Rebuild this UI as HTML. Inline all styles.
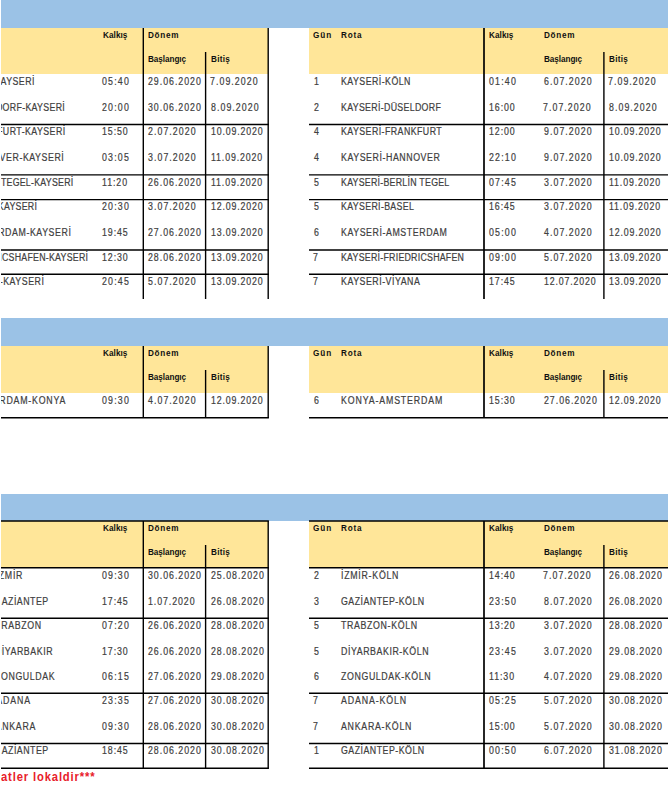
<!DOCTYPE html>
<html><head><meta charset="utf-8"><style>
html,body{margin:0;padding:0;background:#fff;}
#w{position:relative;width:670px;height:800px;overflow:hidden;background:#fff;}
#c{position:absolute;left:1px;top:0;width:669px;height:800px;overflow:hidden;}
#in{position:absolute;left:-1px;top:0;width:670px;height:800px;}
.t{position:absolute;white-space:nowrap;line-height:10px;font-family:"Liberation Sans",sans-serif;}
svg{position:absolute;left:0;top:0;}
</style></head><body><div id="w"><div id="c"><div id="in">
<div style="position:absolute;left:1px;top:0px;width:667px;height:28px;background:#9bc2e6"></div><div style="position:absolute;left:1px;top:28px;width:267px;height:46px;background:#ffe699"></div><div style="position:absolute;left:309px;top:28px;width:359px;height:46px;background:#ffe699"></div><div style="position:absolute;left:1px;top:318px;width:667px;height:28px;background:#9bc2e6"></div><div style="position:absolute;left:1px;top:346px;width:267px;height:47px;background:#ffe699"></div><div style="position:absolute;left:309px;top:346px;width:359px;height:47px;background:#ffe699"></div><div style="position:absolute;left:1px;top:494px;width:667px;height:27px;background:#9bc2e6"></div><div style="position:absolute;left:1px;top:521px;width:267px;height:47px;background:#ffe699"></div><div style="position:absolute;left:309px;top:521px;width:359px;height:47px;background:#ffe699"></div>
<div class="t" style="left:102.5px;top:30px;font-size:8.6px;font-weight:bold;color:#111;transform:scaleX(0.95);transform-origin:0 0;letter-spacing:0.063px;">Kalkış</div>
<div class="t" style="left:148.4px;top:30px;font-size:8.6px;font-weight:bold;color:#111;transform:scaleX(0.95);transform-origin:0 0;letter-spacing:0.763px;">Dönem</div>
<div class="t" style="left:148.4px;top:54px;font-size:8.6px;font-weight:bold;color:#111;transform:scaleX(0.95);transform-origin:0 0;letter-spacing:-0.066px;">Başlangıç</div>
<div class="t" style="left:210.5px;top:54px;font-size:8.6px;font-weight:bold;color:#111;transform:scaleX(0.95);transform-origin:0 0;letter-spacing:0.263px;">Bitiş</div>
<div class="t" style="left:313.1px;top:30px;font-size:8.6px;font-weight:bold;color:#111;transform:scaleX(0.95);transform-origin:0 0;letter-spacing:1.053px;">Gün</div>
<div class="t" style="left:340.8px;top:30px;font-size:8.6px;font-weight:bold;color:#111;transform:scaleX(0.95);transform-origin:0 0;letter-spacing:0.807px;">Rota</div>
<div class="t" style="left:489.2px;top:30px;font-size:8.6px;font-weight:bold;color:#111;transform:scaleX(0.95);transform-origin:0 0;letter-spacing:0.063px;">Kalkış</div>
<div class="t" style="left:544px;top:30px;font-size:8.6px;font-weight:bold;color:#111;transform:scaleX(0.95);transform-origin:0 0;letter-spacing:0.763px;">Dönem</div>
<div class="t" style="left:543.8px;top:54px;font-size:8.6px;font-weight:bold;color:#111;transform:scaleX(0.95);transform-origin:0 0;letter-spacing:-0.066px;">Başlangıç</div>
<div class="t" style="left:608.7px;top:54px;font-size:8.6px;font-weight:bold;color:#111;transform:scaleX(0.95);transform-origin:0 0;letter-spacing:0.263px;">Bitiş</div>
<div class="t" style="left:-35.4px;top:77px;font-size:10px;font-weight:normal;color:#404040;-webkit-text-stroke:0.2px #404040;transform:scaleX(0.88);transform-origin:0 0;letter-spacing:0.517px;">KÖLN-KAYSERİ</div>
<div class="t" style="left:102px;top:77px;font-size:10px;font-weight:normal;color:#404040;-webkit-text-stroke:0.2px #404040;transform:scaleX(0.88);transform-origin:0 0;letter-spacing:1.349px;">05:40</div>
<div class="t" style="left:148.2px;top:77px;font-size:10px;font-weight:normal;color:#404040;-webkit-text-stroke:0.2px #404040;transform:scaleX(0.88);transform-origin:0 0;letter-spacing:1.105px;">29.06.2020</div>
<div class="t" style="left:209.8px;top:77px;font-size:10px;font-weight:normal;color:#404040;-webkit-text-stroke:0.2px #404040;transform:scaleX(0.88);transform-origin:0 0;letter-spacing:1.196px;">7.09.2020</div>
<div class="t" style="left:-35.4px;top:103px;font-size:10px;font-weight:normal;color:#404040;-webkit-text-stroke:0.2px #404040;transform:scaleX(0.88);transform-origin:0 0;letter-spacing:0.362px;">DÜSELDORF-KAYSERİ</div>
<div class="t" style="left:102px;top:103px;font-size:10px;font-weight:normal;color:#404040;-webkit-text-stroke:0.2px #404040;transform:scaleX(0.88);transform-origin:0 0;letter-spacing:1.349px;">20:00</div>
<div class="t" style="left:148.2px;top:103px;font-size:10px;font-weight:normal;color:#404040;-webkit-text-stroke:0.2px #404040;transform:scaleX(0.88);transform-origin:0 0;letter-spacing:1.105px;">30.06.2020</div>
<div class="t" style="left:210.8px;top:103px;font-size:10px;font-weight:normal;color:#404040;-webkit-text-stroke:0.2px #404040;transform:scaleX(0.88);transform-origin:0 0;letter-spacing:1.204px;">8.09.2020</div>
<div class="t" style="left:-35.4px;top:127px;font-size:10px;font-weight:normal;color:#404040;-webkit-text-stroke:0.2px #404040;transform:scaleX(0.88);transform-origin:0 0;letter-spacing:0.504px;">FRANKFURT-KAYSERİ</div>
<div class="t" style="left:102px;top:127px;font-size:10px;font-weight:normal;color:#404040;-webkit-text-stroke:0.2px #404040;transform:scaleX(0.88);transform-origin:0 0;letter-spacing:1.045px;">15:50</div>
<div class="t" style="left:148.2px;top:127px;font-size:10px;font-weight:normal;color:#404040;-webkit-text-stroke:0.2px #404040;transform:scaleX(0.88);transform-origin:0 0;letter-spacing:1.204px;">2.07.2020</div>
<div class="t" style="left:210.8px;top:127px;font-size:10px;font-weight:normal;color:#404040;-webkit-text-stroke:0.2px #404040;transform:scaleX(0.88);transform-origin:0 0;letter-spacing:0.972px;">10.09.2020</div>
<div class="t" style="left:-35.4px;top:153px;font-size:10px;font-weight:normal;color:#404040;-webkit-text-stroke:0.2px #404040;transform:scaleX(0.88);transform-origin:0 0;letter-spacing:0.644px;">HANNOVER-KAYSERİ</div>
<div class="t" style="left:102px;top:153px;font-size:10px;font-weight:normal;color:#404040;-webkit-text-stroke:0.2px #404040;transform:scaleX(0.88);transform-origin:0 0;letter-spacing:1.349px;">03:05</div>
<div class="t" style="left:148.2px;top:153px;font-size:10px;font-weight:normal;color:#404040;-webkit-text-stroke:0.2px #404040;transform:scaleX(0.88);transform-origin:0 0;letter-spacing:1.204px;">3.07.2020</div>
<div class="t" style="left:210.8px;top:153px;font-size:10px;font-weight:normal;color:#404040;-webkit-text-stroke:0.2px #404040;transform:scaleX(0.88);transform-origin:0 0;letter-spacing:0.972px;">11.09.2020</div>
<div class="t" style="left:-35.4px;top:178px;font-size:10px;font-weight:normal;color:#404040;-webkit-text-stroke:0.2px #404040;transform:scaleX(0.88);transform-origin:0 0;letter-spacing:0.293px;">BERLİN TEGEL-KAYSERİ</div>
<div class="t" style="left:102px;top:178px;font-size:10px;font-weight:normal;color:#404040;-webkit-text-stroke:0.2px #404040;transform:scaleX(0.88);transform-origin:0 0;letter-spacing:1.045px;">11:20</div>
<div class="t" style="left:148.2px;top:178px;font-size:10px;font-weight:normal;color:#404040;-webkit-text-stroke:0.2px #404040;transform:scaleX(0.88);transform-origin:0 0;letter-spacing:1.105px;">26.06.2020</div>
<div class="t" style="left:210.8px;top:178px;font-size:10px;font-weight:normal;color:#404040;-webkit-text-stroke:0.2px #404040;transform:scaleX(0.88);transform-origin:0 0;letter-spacing:0.972px;">11.09.2020</div>
<div class="t" style="left:-35.4px;top:202px;font-size:10px;font-weight:normal;color:#404040;-webkit-text-stroke:0.2px #404040;transform:scaleX(0.88);transform-origin:0 0;letter-spacing:0.294px;">BASEL-KAYSERİ</div>
<div class="t" style="left:102px;top:202px;font-size:10px;font-weight:normal;color:#404040;-webkit-text-stroke:0.2px #404040;transform:scaleX(0.88);transform-origin:0 0;letter-spacing:1.349px;">20:30</div>
<div class="t" style="left:148.2px;top:202px;font-size:10px;font-weight:normal;color:#404040;-webkit-text-stroke:0.2px #404040;transform:scaleX(0.88);transform-origin:0 0;letter-spacing:1.204px;">3.07.2020</div>
<div class="t" style="left:210.8px;top:202px;font-size:10px;font-weight:normal;color:#404040;-webkit-text-stroke:0.2px #404040;transform:scaleX(0.88);transform-origin:0 0;letter-spacing:0.972px;">12.09.2020</div>
<div class="t" style="left:-35.4px;top:228px;font-size:10px;font-weight:normal;color:#404040;-webkit-text-stroke:0.2px #404040;transform:scaleX(0.88);transform-origin:0 0;letter-spacing:0.653px;">AMSTERDAM-KAYSERİ</div>
<div class="t" style="left:102px;top:228px;font-size:10px;font-weight:normal;color:#404040;-webkit-text-stroke:0.2px #404040;transform:scaleX(0.88);transform-origin:0 0;letter-spacing:1.045px;">19:45</div>
<div class="t" style="left:148.2px;top:228px;font-size:10px;font-weight:normal;color:#404040;-webkit-text-stroke:0.2px #404040;transform:scaleX(0.88);transform-origin:0 0;letter-spacing:1.105px;">27.06.2020</div>
<div class="t" style="left:210.8px;top:228px;font-size:10px;font-weight:normal;color:#404040;-webkit-text-stroke:0.2px #404040;transform:scaleX(0.88);transform-origin:0 0;letter-spacing:0.972px;">13.09.2020</div>
<div class="t" style="left:-35.4px;top:253px;font-size:10px;font-weight:normal;color:#404040;-webkit-text-stroke:0.2px #404040;transform:scaleX(0.88);transform-origin:0 0;letter-spacing:0.287px;">FRIEDRICSHAFEN-KAYSERİ</div>
<div class="t" style="left:102px;top:253px;font-size:10px;font-weight:normal;color:#404040;-webkit-text-stroke:0.2px #404040;transform:scaleX(0.88);transform-origin:0 0;letter-spacing:1.045px;">12:30</div>
<div class="t" style="left:148.2px;top:253px;font-size:10px;font-weight:normal;color:#404040;-webkit-text-stroke:0.2px #404040;transform:scaleX(0.88);transform-origin:0 0;letter-spacing:1.105px;">28.06.2020</div>
<div class="t" style="left:210.8px;top:253px;font-size:10px;font-weight:normal;color:#404040;-webkit-text-stroke:0.2px #404040;transform:scaleX(0.88);transform-origin:0 0;letter-spacing:0.972px;">13.09.2020</div>
<div class="t" style="left:-35.4px;top:277px;font-size:10px;font-weight:normal;color:#404040;-webkit-text-stroke:0.2px #404040;transform:scaleX(0.88);transform-origin:0 0;letter-spacing:0.594px;">VİYANA-KAYSERİ</div>
<div class="t" style="left:102px;top:277px;font-size:10px;font-weight:normal;color:#404040;-webkit-text-stroke:0.2px #404040;transform:scaleX(0.88);transform-origin:0 0;letter-spacing:1.349px;">20:45</div>
<div class="t" style="left:148.2px;top:277px;font-size:10px;font-weight:normal;color:#404040;-webkit-text-stroke:0.2px #404040;transform:scaleX(0.88);transform-origin:0 0;letter-spacing:1.204px;">5.07.2020</div>
<div class="t" style="left:210.8px;top:277px;font-size:10px;font-weight:normal;color:#404040;-webkit-text-stroke:0.2px #404040;transform:scaleX(0.88);transform-origin:0 0;letter-spacing:0.972px;">13.09.2020</div>
<div class="t" style="left:314.4px;top:77px;font-size:10px;font-weight:normal;color:#404040;-webkit-text-stroke:0.2px #404040;transform:scaleX(0.88);transform-origin:0 0;letter-spacing:0px;">1</div>
<div class="t" style="left:340.7px;top:77px;font-size:10px;font-weight:normal;color:#404040;-webkit-text-stroke:0.2px #404040;transform:scaleX(0.88);transform-origin:0 0;letter-spacing:0.517px;">KAYSERİ-KÖLN</div>
<div class="t" style="left:489.2px;top:77px;font-size:10px;font-weight:normal;color:#404040;-webkit-text-stroke:0.2px #404040;transform:scaleX(0.88);transform-origin:0 0;letter-spacing:1.349px;">01:40</div>
<div class="t" style="left:544px;top:77px;font-size:10px;font-weight:normal;color:#404040;-webkit-text-stroke:0.2px #404040;transform:scaleX(0.88);transform-origin:0 0;letter-spacing:1.204px;">6.07.2020</div>
<div class="t" style="left:607.8px;top:77px;font-size:10px;font-weight:normal;color:#404040;-webkit-text-stroke:0.2px #404040;transform:scaleX(0.88);transform-origin:0 0;letter-spacing:1.196px;">7.09.2020</div>
<div class="t" style="left:313.5px;top:103px;font-size:10px;font-weight:normal;color:#404040;-webkit-text-stroke:0.2px #404040;transform:scaleX(0.88);transform-origin:0 0;letter-spacing:0px;">2</div>
<div class="t" style="left:340.7px;top:103px;font-size:10px;font-weight:normal;color:#404040;-webkit-text-stroke:0.2px #404040;transform:scaleX(0.88);transform-origin:0 0;letter-spacing:0.362px;">KAYSERİ-DÜSELDORF</div>
<div class="t" style="left:489.2px;top:103px;font-size:10px;font-weight:normal;color:#404040;-webkit-text-stroke:0.2px #404040;transform:scaleX(0.88);transform-origin:0 0;letter-spacing:1.045px;">16:00</div>
<div class="t" style="left:543px;top:103px;font-size:10px;font-weight:normal;color:#404040;-webkit-text-stroke:0.2px #404040;transform:scaleX(0.88);transform-origin:0 0;letter-spacing:1.196px;">7.07.2020</div>
<div class="t" style="left:608.8px;top:103px;font-size:10px;font-weight:normal;color:#404040;-webkit-text-stroke:0.2px #404040;transform:scaleX(0.88);transform-origin:0 0;letter-spacing:1.204px;">8.09.2020</div>
<div class="t" style="left:313.5px;top:127px;font-size:10px;font-weight:normal;color:#404040;-webkit-text-stroke:0.2px #404040;transform:scaleX(0.88);transform-origin:0 0;letter-spacing:0px;">4</div>
<div class="t" style="left:340.7px;top:127px;font-size:10px;font-weight:normal;color:#404040;-webkit-text-stroke:0.2px #404040;transform:scaleX(0.88);transform-origin:0 0;letter-spacing:0.504px;">KAYSERİ-FRANKFURT</div>
<div class="t" style="left:489.2px;top:127px;font-size:10px;font-weight:normal;color:#404040;-webkit-text-stroke:0.2px #404040;transform:scaleX(0.88);transform-origin:0 0;letter-spacing:1.045px;">12:00</div>
<div class="t" style="left:544px;top:127px;font-size:10px;font-weight:normal;color:#404040;-webkit-text-stroke:0.2px #404040;transform:scaleX(0.88);transform-origin:0 0;letter-spacing:1.204px;">9.07.2020</div>
<div class="t" style="left:608.8px;top:127px;font-size:10px;font-weight:normal;color:#404040;-webkit-text-stroke:0.2px #404040;transform:scaleX(0.88);transform-origin:0 0;letter-spacing:0.972px;">10.09.2020</div>
<div class="t" style="left:313.5px;top:153px;font-size:10px;font-weight:normal;color:#404040;-webkit-text-stroke:0.2px #404040;transform:scaleX(0.88);transform-origin:0 0;letter-spacing:0px;">4</div>
<div class="t" style="left:340.7px;top:153px;font-size:10px;font-weight:normal;color:#404040;-webkit-text-stroke:0.2px #404040;transform:scaleX(0.88);transform-origin:0 0;letter-spacing:0.644px;">KAYSERİ-HANNOVER</div>
<div class="t" style="left:489.2px;top:153px;font-size:10px;font-weight:normal;color:#404040;-webkit-text-stroke:0.2px #404040;transform:scaleX(0.88);transform-origin:0 0;letter-spacing:1.349px;">22:10</div>
<div class="t" style="left:544px;top:153px;font-size:10px;font-weight:normal;color:#404040;-webkit-text-stroke:0.2px #404040;transform:scaleX(0.88);transform-origin:0 0;letter-spacing:1.204px;">9.07.2020</div>
<div class="t" style="left:608.8px;top:153px;font-size:10px;font-weight:normal;color:#404040;-webkit-text-stroke:0.2px #404040;transform:scaleX(0.88);transform-origin:0 0;letter-spacing:0.972px;">10.09.2020</div>
<div class="t" style="left:313.5px;top:178px;font-size:10px;font-weight:normal;color:#404040;-webkit-text-stroke:0.2px #404040;transform:scaleX(0.88);transform-origin:0 0;letter-spacing:0px;">5</div>
<div class="t" style="left:340.7px;top:178px;font-size:10px;font-weight:normal;color:#404040;-webkit-text-stroke:0.2px #404040;transform:scaleX(0.88);transform-origin:0 0;letter-spacing:0.293px;">KAYSERİ-BERLİN TEGEL</div>
<div class="t" style="left:489.2px;top:178px;font-size:10px;font-weight:normal;color:#404040;-webkit-text-stroke:0.2px #404040;transform:scaleX(0.88);transform-origin:0 0;letter-spacing:1.349px;">07:45</div>
<div class="t" style="left:544px;top:178px;font-size:10px;font-weight:normal;color:#404040;-webkit-text-stroke:0.2px #404040;transform:scaleX(0.88);transform-origin:0 0;letter-spacing:1.204px;">3.07.2020</div>
<div class="t" style="left:608.8px;top:178px;font-size:10px;font-weight:normal;color:#404040;-webkit-text-stroke:0.2px #404040;transform:scaleX(0.88);transform-origin:0 0;letter-spacing:0.972px;">11.09.2020</div>
<div class="t" style="left:313.5px;top:202px;font-size:10px;font-weight:normal;color:#404040;-webkit-text-stroke:0.2px #404040;transform:scaleX(0.88);transform-origin:0 0;letter-spacing:0px;">5</div>
<div class="t" style="left:340.7px;top:202px;font-size:10px;font-weight:normal;color:#404040;-webkit-text-stroke:0.2px #404040;transform:scaleX(0.88);transform-origin:0 0;letter-spacing:0.388px;">KAYSERİ-BASEL</div>
<div class="t" style="left:489.2px;top:202px;font-size:10px;font-weight:normal;color:#404040;-webkit-text-stroke:0.2px #404040;transform:scaleX(0.88);transform-origin:0 0;letter-spacing:1.045px;">16:45</div>
<div class="t" style="left:544px;top:202px;font-size:10px;font-weight:normal;color:#404040;-webkit-text-stroke:0.2px #404040;transform:scaleX(0.88);transform-origin:0 0;letter-spacing:1.204px;">3.07.2020</div>
<div class="t" style="left:608.8px;top:202px;font-size:10px;font-weight:normal;color:#404040;-webkit-text-stroke:0.2px #404040;transform:scaleX(0.88);transform-origin:0 0;letter-spacing:0.972px;">11.09.2020</div>
<div class="t" style="left:313.5px;top:228px;font-size:10px;font-weight:normal;color:#404040;-webkit-text-stroke:0.2px #404040;transform:scaleX(0.88);transform-origin:0 0;letter-spacing:0px;">6</div>
<div class="t" style="left:340.7px;top:228px;font-size:10px;font-weight:normal;color:#404040;-webkit-text-stroke:0.2px #404040;transform:scaleX(0.88);transform-origin:0 0;letter-spacing:0.653px;">KAYSERİ-AMSTERDAM</div>
<div class="t" style="left:489.2px;top:228px;font-size:10px;font-weight:normal;color:#404040;-webkit-text-stroke:0.2px #404040;transform:scaleX(0.88);transform-origin:0 0;letter-spacing:1.349px;">05:00</div>
<div class="t" style="left:544px;top:228px;font-size:10px;font-weight:normal;color:#404040;-webkit-text-stroke:0.2px #404040;transform:scaleX(0.88);transform-origin:0 0;letter-spacing:1.204px;">4.07.2020</div>
<div class="t" style="left:608.8px;top:228px;font-size:10px;font-weight:normal;color:#404040;-webkit-text-stroke:0.2px #404040;transform:scaleX(0.88);transform-origin:0 0;letter-spacing:0.972px;">12.09.2020</div>
<div class="t" style="left:312.5px;top:253px;font-size:10px;font-weight:normal;color:#404040;-webkit-text-stroke:0.2px #404040;transform:scaleX(0.88);transform-origin:0 0;letter-spacing:0px;">7</div>
<div class="t" style="left:340.7px;top:253px;font-size:10px;font-weight:normal;color:#404040;-webkit-text-stroke:0.2px #404040;transform:scaleX(0.88);transform-origin:0 0;letter-spacing:0.287px;">KAYSERİ-FRIEDRICSHAFEN</div>
<div class="t" style="left:489.2px;top:253px;font-size:10px;font-weight:normal;color:#404040;-webkit-text-stroke:0.2px #404040;transform:scaleX(0.88);transform-origin:0 0;letter-spacing:1.349px;">09:00</div>
<div class="t" style="left:544px;top:253px;font-size:10px;font-weight:normal;color:#404040;-webkit-text-stroke:0.2px #404040;transform:scaleX(0.88);transform-origin:0 0;letter-spacing:1.204px;">5.07.2020</div>
<div class="t" style="left:608.8px;top:253px;font-size:10px;font-weight:normal;color:#404040;-webkit-text-stroke:0.2px #404040;transform:scaleX(0.88);transform-origin:0 0;letter-spacing:0.972px;">13.09.2020</div>
<div class="t" style="left:312.5px;top:277px;font-size:10px;font-weight:normal;color:#404040;-webkit-text-stroke:0.2px #404040;transform:scaleX(0.88);transform-origin:0 0;letter-spacing:0px;">7</div>
<div class="t" style="left:340.7px;top:277px;font-size:10px;font-weight:normal;color:#404040;-webkit-text-stroke:0.2px #404040;transform:scaleX(0.88);transform-origin:0 0;letter-spacing:0.594px;">KAYSERİ-VİYANA</div>
<div class="t" style="left:489.2px;top:277px;font-size:10px;font-weight:normal;color:#404040;-webkit-text-stroke:0.2px #404040;transform:scaleX(0.88);transform-origin:0 0;letter-spacing:1.045px;">17:45</div>
<div class="t" style="left:544px;top:277px;font-size:10px;font-weight:normal;color:#404040;-webkit-text-stroke:0.2px #404040;transform:scaleX(0.88);transform-origin:0 0;letter-spacing:0.972px;">12.07.2020</div>
<div class="t" style="left:608.8px;top:277px;font-size:10px;font-weight:normal;color:#404040;-webkit-text-stroke:0.2px #404040;transform:scaleX(0.88);transform-origin:0 0;letter-spacing:0.972px;">13.09.2020</div>
<div class="t" style="left:102.5px;top:348px;font-size:8.6px;font-weight:bold;color:#111;transform:scaleX(0.95);transform-origin:0 0;letter-spacing:0.063px;">Kalkış</div>
<div class="t" style="left:148.4px;top:348px;font-size:8.6px;font-weight:bold;color:#111;transform:scaleX(0.95);transform-origin:0 0;letter-spacing:0.763px;">Dönem</div>
<div class="t" style="left:148.4px;top:372px;font-size:8.6px;font-weight:bold;color:#111;transform:scaleX(0.95);transform-origin:0 0;letter-spacing:-0.066px;">Başlangıç</div>
<div class="t" style="left:210.5px;top:372px;font-size:8.6px;font-weight:bold;color:#111;transform:scaleX(0.95);transform-origin:0 0;letter-spacing:0.263px;">Bitiş</div>
<div class="t" style="left:313.1px;top:348px;font-size:8.6px;font-weight:bold;color:#111;transform:scaleX(0.95);transform-origin:0 0;letter-spacing:1.053px;">Gün</div>
<div class="t" style="left:340.8px;top:348px;font-size:8.6px;font-weight:bold;color:#111;transform:scaleX(0.95);transform-origin:0 0;letter-spacing:0.807px;">Rota</div>
<div class="t" style="left:489.2px;top:348px;font-size:8.6px;font-weight:bold;color:#111;transform:scaleX(0.95);transform-origin:0 0;letter-spacing:0.063px;">Kalkış</div>
<div class="t" style="left:544px;top:348px;font-size:8.6px;font-weight:bold;color:#111;transform:scaleX(0.95);transform-origin:0 0;letter-spacing:0.763px;">Dönem</div>
<div class="t" style="left:543.8px;top:372px;font-size:8.6px;font-weight:bold;color:#111;transform:scaleX(0.95);transform-origin:0 0;letter-spacing:-0.066px;">Başlangıç</div>
<div class="t" style="left:608.7px;top:372px;font-size:8.6px;font-weight:bold;color:#111;transform:scaleX(0.95);transform-origin:0 0;letter-spacing:0.263px;">Bitiş</div>
<div class="t" style="left:-35.4px;top:396px;font-size:10px;font-weight:normal;color:#404040;-webkit-text-stroke:0.2px #404040;transform:scaleX(0.88);transform-origin:0 0;letter-spacing:0.893px;">AMSTERDAM-KONYA</div>
<div class="t" style="left:102px;top:396px;font-size:10px;font-weight:normal;color:#404040;-webkit-text-stroke:0.2px #404040;transform:scaleX(0.88);transform-origin:0 0;letter-spacing:1.349px;">09:30</div>
<div class="t" style="left:148.2px;top:396px;font-size:10px;font-weight:normal;color:#404040;-webkit-text-stroke:0.2px #404040;transform:scaleX(0.88);transform-origin:0 0;letter-spacing:1.204px;">4.07.2020</div>
<div class="t" style="left:210.8px;top:396px;font-size:10px;font-weight:normal;color:#404040;-webkit-text-stroke:0.2px #404040;transform:scaleX(0.88);transform-origin:0 0;letter-spacing:0.972px;">12.09.2020</div>
<div class="t" style="left:313.5px;top:396px;font-size:10px;font-weight:normal;color:#404040;-webkit-text-stroke:0.2px #404040;transform:scaleX(0.88);transform-origin:0 0;letter-spacing:0px;">6</div>
<div class="t" style="left:340.7px;top:396px;font-size:10px;font-weight:normal;color:#404040;-webkit-text-stroke:0.2px #404040;transform:scaleX(0.88);transform-origin:0 0;letter-spacing:0.974px;">KONYA-AMSTERDAM</div>
<div class="t" style="left:489.2px;top:396px;font-size:10px;font-weight:normal;color:#404040;-webkit-text-stroke:0.2px #404040;transform:scaleX(0.88);transform-origin:0 0;letter-spacing:1.045px;">15:30</div>
<div class="t" style="left:544px;top:396px;font-size:10px;font-weight:normal;color:#404040;-webkit-text-stroke:0.2px #404040;transform:scaleX(0.88);transform-origin:0 0;letter-spacing:1.105px;">27.06.2020</div>
<div class="t" style="left:608.8px;top:396px;font-size:10px;font-weight:normal;color:#404040;-webkit-text-stroke:0.2px #404040;transform:scaleX(0.88);transform-origin:0 0;letter-spacing:0.972px;">12.09.2020</div>
<div class="t" style="left:102.5px;top:523px;font-size:8.6px;font-weight:bold;color:#111;transform:scaleX(0.95);transform-origin:0 0;letter-spacing:0.063px;">Kalkış</div>
<div class="t" style="left:148.4px;top:523px;font-size:8.6px;font-weight:bold;color:#111;transform:scaleX(0.95);transform-origin:0 0;letter-spacing:0.763px;">Dönem</div>
<div class="t" style="left:148.4px;top:547px;font-size:8.6px;font-weight:bold;color:#111;transform:scaleX(0.95);transform-origin:0 0;letter-spacing:-0.066px;">Başlangıç</div>
<div class="t" style="left:210.5px;top:547px;font-size:8.6px;font-weight:bold;color:#111;transform:scaleX(0.95);transform-origin:0 0;letter-spacing:0.263px;">Bitiş</div>
<div class="t" style="left:313.1px;top:523px;font-size:8.6px;font-weight:bold;color:#111;transform:scaleX(0.95);transform-origin:0 0;letter-spacing:1.053px;">Gün</div>
<div class="t" style="left:340.8px;top:523px;font-size:8.6px;font-weight:bold;color:#111;transform:scaleX(0.95);transform-origin:0 0;letter-spacing:0.807px;">Rota</div>
<div class="t" style="left:489.2px;top:523px;font-size:8.6px;font-weight:bold;color:#111;transform:scaleX(0.95);transform-origin:0 0;letter-spacing:0.063px;">Kalkış</div>
<div class="t" style="left:544px;top:523px;font-size:8.6px;font-weight:bold;color:#111;transform:scaleX(0.95);transform-origin:0 0;letter-spacing:0.763px;">Dönem</div>
<div class="t" style="left:543.8px;top:547px;font-size:8.6px;font-weight:bold;color:#111;transform:scaleX(0.95);transform-origin:0 0;letter-spacing:-0.066px;">Başlangıç</div>
<div class="t" style="left:608.7px;top:547px;font-size:8.6px;font-weight:bold;color:#111;transform:scaleX(0.95);transform-origin:0 0;letter-spacing:0.263px;">Bitiş</div>
<div class="t" style="left:-35.4px;top:571px;font-size:10px;font-weight:normal;color:#404040;-webkit-text-stroke:0.2px #404040;transform:scaleX(0.88);transform-origin:0 0;letter-spacing:0.833px;">KÖLN-İZMİR</div>
<div class="t" style="left:102px;top:571px;font-size:10px;font-weight:normal;color:#404040;-webkit-text-stroke:0.2px #404040;transform:scaleX(0.88);transform-origin:0 0;letter-spacing:1.349px;">09:30</div>
<div class="t" style="left:148.2px;top:571px;font-size:10px;font-weight:normal;color:#404040;-webkit-text-stroke:0.2px #404040;transform:scaleX(0.88);transform-origin:0 0;letter-spacing:1.105px;">30.06.2020</div>
<div class="t" style="left:210.8px;top:571px;font-size:10px;font-weight:normal;color:#404040;-webkit-text-stroke:0.2px #404040;transform:scaleX(0.88);transform-origin:0 0;letter-spacing:1.105px;">25.08.2020</div>
<div class="t" style="left:-35.4px;top:597px;font-size:10px;font-weight:normal;color:#404040;-webkit-text-stroke:0.2px #404040;transform:scaleX(0.88);transform-origin:0 0;letter-spacing:0.559px;">KÖLN-GAZİANTEP</div>
<div class="t" style="left:102px;top:597px;font-size:10px;font-weight:normal;color:#404040;-webkit-text-stroke:0.2px #404040;transform:scaleX(0.88);transform-origin:0 0;letter-spacing:1.045px;">17:45</div>
<div class="t" style="left:148.2px;top:597px;font-size:10px;font-weight:normal;color:#404040;-webkit-text-stroke:0.2px #404040;transform:scaleX(0.88);transform-origin:0 0;letter-spacing:1.054px;">1.07.2020</div>
<div class="t" style="left:210.8px;top:597px;font-size:10px;font-weight:normal;color:#404040;-webkit-text-stroke:0.2px #404040;transform:scaleX(0.88);transform-origin:0 0;letter-spacing:1.105px;">26.08.2020</div>
<div class="t" style="left:-35.4px;top:621px;font-size:10px;font-weight:normal;color:#404040;-webkit-text-stroke:0.2px #404040;transform:scaleX(0.88);transform-origin:0 0;letter-spacing:0.733px;">KÖLN-TRABZON</div>
<div class="t" style="left:102px;top:621px;font-size:10px;font-weight:normal;color:#404040;-webkit-text-stroke:0.2px #404040;transform:scaleX(0.88);transform-origin:0 0;letter-spacing:1.349px;">07:20</div>
<div class="t" style="left:148.2px;top:621px;font-size:10px;font-weight:normal;color:#404040;-webkit-text-stroke:0.2px #404040;transform:scaleX(0.88);transform-origin:0 0;letter-spacing:1.105px;">26.06.2020</div>
<div class="t" style="left:210.8px;top:621px;font-size:10px;font-weight:normal;color:#404040;-webkit-text-stroke:0.2px #404040;transform:scaleX(0.88);transform-origin:0 0;letter-spacing:1.105px;">28.08.2020</div>
<div class="t" style="left:-35.4px;top:647px;font-size:10px;font-weight:normal;color:#404040;-webkit-text-stroke:0.2px #404040;transform:scaleX(0.88);transform-origin:0 0;letter-spacing:0.649px;">KÖLN-DİYARBAKIR</div>
<div class="t" style="left:102px;top:647px;font-size:10px;font-weight:normal;color:#404040;-webkit-text-stroke:0.2px #404040;transform:scaleX(0.88);transform-origin:0 0;letter-spacing:1.045px;">17:30</div>
<div class="t" style="left:148.2px;top:647px;font-size:10px;font-weight:normal;color:#404040;-webkit-text-stroke:0.2px #404040;transform:scaleX(0.88);transform-origin:0 0;letter-spacing:1.105px;">26.06.2020</div>
<div class="t" style="left:210.8px;top:647px;font-size:10px;font-weight:normal;color:#404040;-webkit-text-stroke:0.2px #404040;transform:scaleX(0.88);transform-origin:0 0;letter-spacing:1.105px;">28.08.2020</div>
<div class="t" style="left:-35.4px;top:672px;font-size:10px;font-weight:normal;color:#404040;-webkit-text-stroke:0.2px #404040;transform:scaleX(0.88);transform-origin:0 0;letter-spacing:0.699px;">KÖLN-ZONGULDAK</div>
<div class="t" style="left:102px;top:672px;font-size:10px;font-weight:normal;color:#404040;-webkit-text-stroke:0.2px #404040;transform:scaleX(0.88);transform-origin:0 0;letter-spacing:1.349px;">06:15</div>
<div class="t" style="left:148.2px;top:672px;font-size:10px;font-weight:normal;color:#404040;-webkit-text-stroke:0.2px #404040;transform:scaleX(0.88);transform-origin:0 0;letter-spacing:1.105px;">27.06.2020</div>
<div class="t" style="left:210.8px;top:672px;font-size:10px;font-weight:normal;color:#404040;-webkit-text-stroke:0.2px #404040;transform:scaleX(0.88);transform-origin:0 0;letter-spacing:1.105px;">29.08.2020</div>
<div class="t" style="left:-35.4px;top:696px;font-size:10px;font-weight:normal;color:#404040;-webkit-text-stroke:0.2px #404040;transform:scaleX(0.88);transform-origin:0 0;letter-spacing:1.01px;">KÖLN-ADANA</div>
<div class="t" style="left:102px;top:696px;font-size:10px;font-weight:normal;color:#404040;-webkit-text-stroke:0.2px #404040;transform:scaleX(0.88);transform-origin:0 0;letter-spacing:1.349px;">23:35</div>
<div class="t" style="left:148.2px;top:696px;font-size:10px;font-weight:normal;color:#404040;-webkit-text-stroke:0.2px #404040;transform:scaleX(0.88);transform-origin:0 0;letter-spacing:1.105px;">27.06.2020</div>
<div class="t" style="left:210.8px;top:696px;font-size:10px;font-weight:normal;color:#404040;-webkit-text-stroke:0.2px #404040;transform:scaleX(0.88);transform-origin:0 0;letter-spacing:1.105px;">30.08.2020</div>
<div class="t" style="left:-35.4px;top:722px;font-size:10px;font-weight:normal;color:#404040;-webkit-text-stroke:0.2px #404040;transform:scaleX(0.88);transform-origin:0 0;letter-spacing:0.83px;">KÖLN-ANKARA</div>
<div class="t" style="left:102px;top:722px;font-size:10px;font-weight:normal;color:#404040;-webkit-text-stroke:0.2px #404040;transform:scaleX(0.88);transform-origin:0 0;letter-spacing:1.349px;">09:30</div>
<div class="t" style="left:148.2px;top:722px;font-size:10px;font-weight:normal;color:#404040;-webkit-text-stroke:0.2px #404040;transform:scaleX(0.88);transform-origin:0 0;letter-spacing:1.105px;">28.06.2020</div>
<div class="t" style="left:210.8px;top:722px;font-size:10px;font-weight:normal;color:#404040;-webkit-text-stroke:0.2px #404040;transform:scaleX(0.88);transform-origin:0 0;letter-spacing:1.105px;">30.08.2020</div>
<div class="t" style="left:-35.4px;top:746px;font-size:10px;font-weight:normal;color:#404040;-webkit-text-stroke:0.2px #404040;transform:scaleX(0.88);transform-origin:0 0;letter-spacing:0.559px;">KÖLN-GAZİANTEP</div>
<div class="t" style="left:102px;top:746px;font-size:10px;font-weight:normal;color:#404040;-webkit-text-stroke:0.2px #404040;transform:scaleX(0.88);transform-origin:0 0;letter-spacing:1.045px;">18:45</div>
<div class="t" style="left:148.2px;top:746px;font-size:10px;font-weight:normal;color:#404040;-webkit-text-stroke:0.2px #404040;transform:scaleX(0.88);transform-origin:0 0;letter-spacing:1.105px;">28.06.2020</div>
<div class="t" style="left:210.8px;top:746px;font-size:10px;font-weight:normal;color:#404040;-webkit-text-stroke:0.2px #404040;transform:scaleX(0.88);transform-origin:0 0;letter-spacing:1.105px;">30.08.2020</div>
<div class="t" style="left:313.5px;top:571px;font-size:10px;font-weight:normal;color:#404040;-webkit-text-stroke:0.2px #404040;transform:scaleX(0.88);transform-origin:0 0;letter-spacing:0px;">2</div>
<div class="t" style="left:340.7px;top:571px;font-size:10px;font-weight:normal;color:#404040;-webkit-text-stroke:0.2px #404040;transform:scaleX(0.88);transform-origin:0 0;letter-spacing:0.833px;">İZMİR-KÖLN</div>
<div class="t" style="left:489.2px;top:571px;font-size:10px;font-weight:normal;color:#404040;-webkit-text-stroke:0.2px #404040;transform:scaleX(0.88);transform-origin:0 0;letter-spacing:1.045px;">14:40</div>
<div class="t" style="left:543px;top:571px;font-size:10px;font-weight:normal;color:#404040;-webkit-text-stroke:0.2px #404040;transform:scaleX(0.88);transform-origin:0 0;letter-spacing:1.196px;">7.07.2020</div>
<div class="t" style="left:608.8px;top:571px;font-size:10px;font-weight:normal;color:#404040;-webkit-text-stroke:0.2px #404040;transform:scaleX(0.88);transform-origin:0 0;letter-spacing:1.105px;">26.08.2020</div>
<div class="t" style="left:313.5px;top:597px;font-size:10px;font-weight:normal;color:#404040;-webkit-text-stroke:0.2px #404040;transform:scaleX(0.88);transform-origin:0 0;letter-spacing:0px;">3</div>
<div class="t" style="left:340.7px;top:597px;font-size:10px;font-weight:normal;color:#404040;-webkit-text-stroke:0.2px #404040;transform:scaleX(0.88);transform-origin:0 0;letter-spacing:0.559px;">GAZİANTEP-KÖLN</div>
<div class="t" style="left:489.2px;top:597px;font-size:10px;font-weight:normal;color:#404040;-webkit-text-stroke:0.2px #404040;transform:scaleX(0.88);transform-origin:0 0;letter-spacing:1.349px;">23:50</div>
<div class="t" style="left:544px;top:597px;font-size:10px;font-weight:normal;color:#404040;-webkit-text-stroke:0.2px #404040;transform:scaleX(0.88);transform-origin:0 0;letter-spacing:1.204px;">8.07.2020</div>
<div class="t" style="left:608.8px;top:597px;font-size:10px;font-weight:normal;color:#404040;-webkit-text-stroke:0.2px #404040;transform:scaleX(0.88);transform-origin:0 0;letter-spacing:1.105px;">26.08.2020</div>
<div class="t" style="left:313.5px;top:621px;font-size:10px;font-weight:normal;color:#404040;-webkit-text-stroke:0.2px #404040;transform:scaleX(0.88);transform-origin:0 0;letter-spacing:0px;">5</div>
<div class="t" style="left:340.7px;top:621px;font-size:10px;font-weight:normal;color:#404040;-webkit-text-stroke:0.2px #404040;transform:scaleX(0.88);transform-origin:0 0;letter-spacing:0.733px;">TRABZON-KÖLN</div>
<div class="t" style="left:489.2px;top:621px;font-size:10px;font-weight:normal;color:#404040;-webkit-text-stroke:0.2px #404040;transform:scaleX(0.88);transform-origin:0 0;letter-spacing:1.045px;">13:20</div>
<div class="t" style="left:544px;top:621px;font-size:10px;font-weight:normal;color:#404040;-webkit-text-stroke:0.2px #404040;transform:scaleX(0.88);transform-origin:0 0;letter-spacing:1.204px;">3.07.2020</div>
<div class="t" style="left:608.8px;top:621px;font-size:10px;font-weight:normal;color:#404040;-webkit-text-stroke:0.2px #404040;transform:scaleX(0.88);transform-origin:0 0;letter-spacing:1.105px;">28.08.2020</div>
<div class="t" style="left:313.5px;top:647px;font-size:10px;font-weight:normal;color:#404040;-webkit-text-stroke:0.2px #404040;transform:scaleX(0.88);transform-origin:0 0;letter-spacing:0px;">5</div>
<div class="t" style="left:340.7px;top:647px;font-size:10px;font-weight:normal;color:#404040;-webkit-text-stroke:0.2px #404040;transform:scaleX(0.88);transform-origin:0 0;letter-spacing:0.649px;">DİYARBAKIR-KÖLN</div>
<div class="t" style="left:489.2px;top:647px;font-size:10px;font-weight:normal;color:#404040;-webkit-text-stroke:0.2px #404040;transform:scaleX(0.88);transform-origin:0 0;letter-spacing:1.349px;">23:45</div>
<div class="t" style="left:544px;top:647px;font-size:10px;font-weight:normal;color:#404040;-webkit-text-stroke:0.2px #404040;transform:scaleX(0.88);transform-origin:0 0;letter-spacing:1.204px;">3.07.2020</div>
<div class="t" style="left:608.8px;top:647px;font-size:10px;font-weight:normal;color:#404040;-webkit-text-stroke:0.2px #404040;transform:scaleX(0.88);transform-origin:0 0;letter-spacing:1.105px;">29.08.2020</div>
<div class="t" style="left:313.5px;top:672px;font-size:10px;font-weight:normal;color:#404040;-webkit-text-stroke:0.2px #404040;transform:scaleX(0.88);transform-origin:0 0;letter-spacing:0px;">6</div>
<div class="t" style="left:340.7px;top:672px;font-size:10px;font-weight:normal;color:#404040;-webkit-text-stroke:0.2px #404040;transform:scaleX(0.88);transform-origin:0 0;letter-spacing:0.699px;">ZONGULDAK-KÖLN</div>
<div class="t" style="left:489.2px;top:672px;font-size:10px;font-weight:normal;color:#404040;-webkit-text-stroke:0.2px #404040;transform:scaleX(0.88);transform-origin:0 0;letter-spacing:1.045px;">11:30</div>
<div class="t" style="left:544px;top:672px;font-size:10px;font-weight:normal;color:#404040;-webkit-text-stroke:0.2px #404040;transform:scaleX(0.88);transform-origin:0 0;letter-spacing:1.204px;">4.07.2020</div>
<div class="t" style="left:608.8px;top:672px;font-size:10px;font-weight:normal;color:#404040;-webkit-text-stroke:0.2px #404040;transform:scaleX(0.88);transform-origin:0 0;letter-spacing:1.105px;">29.08.2020</div>
<div class="t" style="left:312.5px;top:696px;font-size:10px;font-weight:normal;color:#404040;-webkit-text-stroke:0.2px #404040;transform:scaleX(0.88);transform-origin:0 0;letter-spacing:0px;">7</div>
<div class="t" style="left:340.7px;top:696px;font-size:10px;font-weight:normal;color:#404040;-webkit-text-stroke:0.2px #404040;transform:scaleX(0.88);transform-origin:0 0;letter-spacing:1.01px;">ADANA-KÖLN</div>
<div class="t" style="left:489.2px;top:696px;font-size:10px;font-weight:normal;color:#404040;-webkit-text-stroke:0.2px #404040;transform:scaleX(0.88);transform-origin:0 0;letter-spacing:1.349px;">05:25</div>
<div class="t" style="left:544px;top:696px;font-size:10px;font-weight:normal;color:#404040;-webkit-text-stroke:0.2px #404040;transform:scaleX(0.88);transform-origin:0 0;letter-spacing:1.204px;">5.07.2020</div>
<div class="t" style="left:608.8px;top:696px;font-size:10px;font-weight:normal;color:#404040;-webkit-text-stroke:0.2px #404040;transform:scaleX(0.88);transform-origin:0 0;letter-spacing:1.105px;">30.08.2020</div>
<div class="t" style="left:312.5px;top:722px;font-size:10px;font-weight:normal;color:#404040;-webkit-text-stroke:0.2px #404040;transform:scaleX(0.88);transform-origin:0 0;letter-spacing:0px;">7</div>
<div class="t" style="left:340.7px;top:722px;font-size:10px;font-weight:normal;color:#404040;-webkit-text-stroke:0.2px #404040;transform:scaleX(0.88);transform-origin:0 0;letter-spacing:0.83px;">ANKARA-KÖLN</div>
<div class="t" style="left:489.2px;top:722px;font-size:10px;font-weight:normal;color:#404040;-webkit-text-stroke:0.2px #404040;transform:scaleX(0.88);transform-origin:0 0;letter-spacing:1.045px;">15:00</div>
<div class="t" style="left:544px;top:722px;font-size:10px;font-weight:normal;color:#404040;-webkit-text-stroke:0.2px #404040;transform:scaleX(0.88);transform-origin:0 0;letter-spacing:1.204px;">5.07.2020</div>
<div class="t" style="left:608.8px;top:722px;font-size:10px;font-weight:normal;color:#404040;-webkit-text-stroke:0.2px #404040;transform:scaleX(0.88);transform-origin:0 0;letter-spacing:1.105px;">30.08.2020</div>
<div class="t" style="left:314.4px;top:746px;font-size:10px;font-weight:normal;color:#404040;-webkit-text-stroke:0.2px #404040;transform:scaleX(0.88);transform-origin:0 0;letter-spacing:0px;">1</div>
<div class="t" style="left:340.7px;top:746px;font-size:10px;font-weight:normal;color:#404040;-webkit-text-stroke:0.2px #404040;transform:scaleX(0.88);transform-origin:0 0;letter-spacing:0.559px;">GAZİANTEP-KÖLN</div>
<div class="t" style="left:489.2px;top:746px;font-size:10px;font-weight:normal;color:#404040;-webkit-text-stroke:0.2px #404040;transform:scaleX(0.88);transform-origin:0 0;letter-spacing:1.349px;">00:50</div>
<div class="t" style="left:544px;top:746px;font-size:10px;font-weight:normal;color:#404040;-webkit-text-stroke:0.2px #404040;transform:scaleX(0.88);transform-origin:0 0;letter-spacing:1.204px;">6.07.2020</div>
<div class="t" style="left:608.8px;top:746px;font-size:10px;font-weight:normal;color:#404040;-webkit-text-stroke:0.2px #404040;transform:scaleX(0.88);transform-origin:0 0;letter-spacing:1.105px;">31.08.2020</div>
<div class="t" style="left:1.2px;top:772px;font-size:12.5px;font-weight:bold;color:#e8202a;transform:scaleX(0.9);transform-origin:0 0;letter-spacing:0.944px;">atler lokaldir***</div>
<svg width="670" height="800" viewBox="0 0 670 800"><line x1="143.3" y1="28" x2="143.3" y2="299" stroke="#000" stroke-width="1.4"/><line x1="205.6" y1="52" x2="205.6" y2="299" stroke="#000" stroke-width="1.4"/><line x1="268.2" y1="28" x2="268.2" y2="299" stroke="#000" stroke-width="1.4"/><line x1="484" y1="28" x2="484" y2="299" stroke="#000" stroke-width="1.7"/><line x1="603.9" y1="52" x2="603.9" y2="299" stroke="#000" stroke-width="1.4"/><line x1="0" y1="124.5" x2="268.9" y2="124.5" stroke="#000" stroke-width="1.4"/><line x1="309" y1="124.5" x2="668" y2="124.5" stroke="#000" stroke-width="1.4"/><line x1="0" y1="174.9" x2="268.9" y2="174.9" stroke="#000" stroke-width="1.4"/><line x1="309" y1="174.9" x2="668" y2="174.9" stroke="#000" stroke-width="1.4"/><line x1="0" y1="199.6" x2="268.9" y2="199.6" stroke="#000" stroke-width="1.4"/><line x1="309" y1="199.6" x2="668" y2="199.6" stroke="#000" stroke-width="1.4"/><line x1="0" y1="250" x2="268.9" y2="250" stroke="#000" stroke-width="1.4"/><line x1="309" y1="250" x2="668" y2="250" stroke="#000" stroke-width="1.4"/><line x1="0" y1="274.3" x2="268.9" y2="274.3" stroke="#000" stroke-width="1.4"/><line x1="309" y1="274.3" x2="668" y2="274.3" stroke="#000" stroke-width="1.4"/><line x1="143.3" y1="346" x2="143.3" y2="418" stroke="#000" stroke-width="1.4"/><line x1="205.6" y1="370" x2="205.6" y2="418" stroke="#000" stroke-width="1.4"/><line x1="268.2" y1="346" x2="268.2" y2="418" stroke="#000" stroke-width="1.4"/><line x1="484" y1="346" x2="484" y2="418" stroke="#000" stroke-width="1.7"/><line x1="603.9" y1="370" x2="603.9" y2="418" stroke="#000" stroke-width="1.4"/><line x1="0" y1="417.8" x2="268.9" y2="417.8" stroke="#000" stroke-width="1.4"/><line x1="309" y1="417.8" x2="668" y2="417.8" stroke="#000" stroke-width="1.4"/><line x1="143.3" y1="521" x2="143.3" y2="768.5" stroke="#000" stroke-width="1.4"/><line x1="205.6" y1="545" x2="205.6" y2="768.5" stroke="#000" stroke-width="1.4"/><line x1="268.2" y1="521" x2="268.2" y2="768.5" stroke="#000" stroke-width="1.4"/><line x1="484" y1="521" x2="484" y2="768.5" stroke="#000" stroke-width="1.7"/><line x1="603.9" y1="545" x2="603.9" y2="768.5" stroke="#000" stroke-width="1.4"/><line x1="0" y1="521" x2="268.9" y2="521" stroke="#000" stroke-width="1.4"/><line x1="309" y1="521" x2="668" y2="521" stroke="#000" stroke-width="1.4"/><line x1="0" y1="567.8" x2="268.9" y2="567.8" stroke="#000" stroke-width="1.4"/><line x1="309" y1="567.8" x2="668" y2="567.8" stroke="#000" stroke-width="1.4"/><line x1="0" y1="618.2" x2="268.9" y2="618.2" stroke="#000" stroke-width="1.4"/><line x1="309" y1="618.2" x2="668" y2="618.2" stroke="#000" stroke-width="1.4"/><line x1="0" y1="693.3" x2="268.9" y2="693.3" stroke="#000" stroke-width="1.4"/><line x1="309" y1="693.3" x2="668" y2="693.3" stroke="#000" stroke-width="1.4"/><line x1="0" y1="743.5" x2="268.9" y2="743.5" stroke="#000" stroke-width="1.4"/><line x1="309" y1="743.5" x2="668" y2="743.5" stroke="#000" stroke-width="1.4"/><line x1="0" y1="768.3" x2="268.9" y2="768.3" stroke="#000" stroke-width="1.4"/><line x1="309" y1="768.3" x2="668" y2="768.3" stroke="#000" stroke-width="1.4"/></svg>
</div></div></div></body></html>
